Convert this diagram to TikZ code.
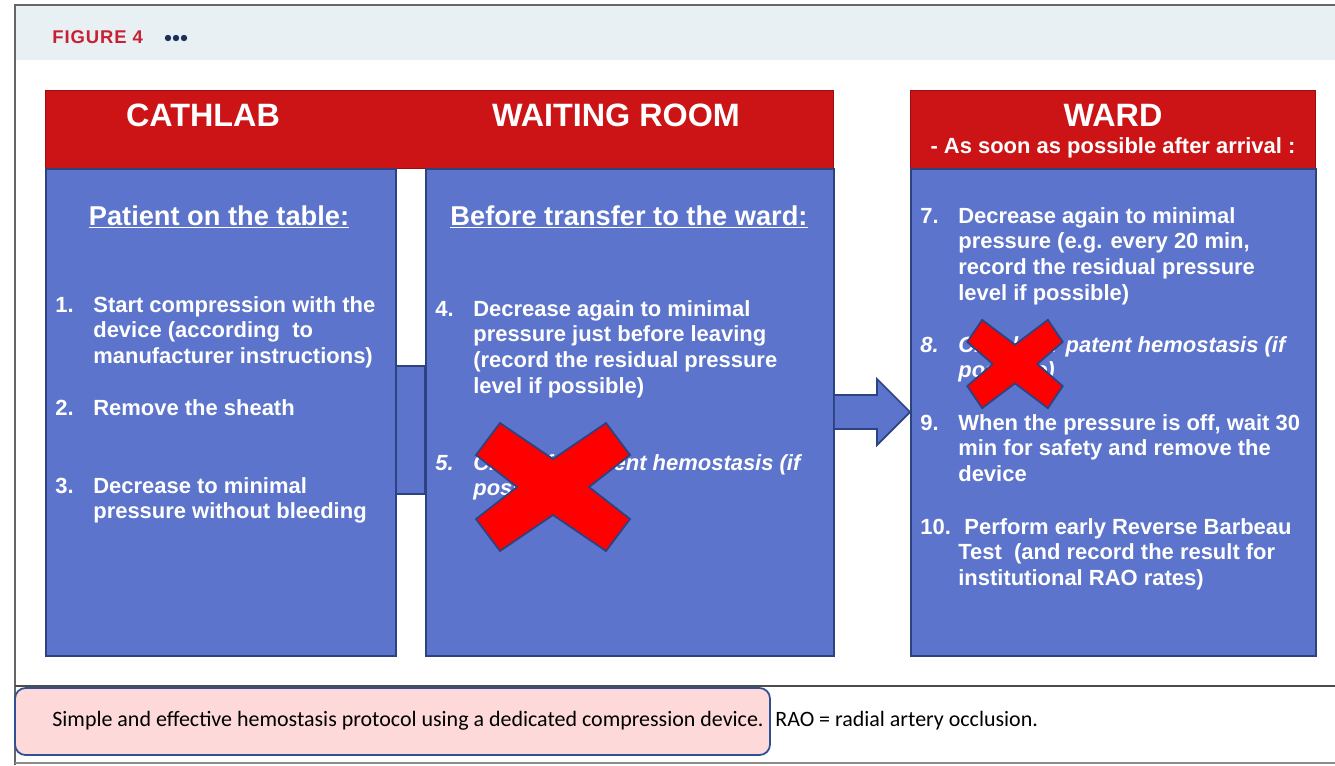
\documentclass[tikz,border=0pt]{standalone}
\usepackage{fontspec}
\setmainfont{Liberation Sans}
\newfontfamily\capfont{Carlito}
\usetikzlibrary{calc}
\definecolor{hdrred}{RGB}{204,20,22}
\definecolor{boxblue}{RGB}{92,116,203}
\definecolor{boxline}{RGB}{45,66,128}
\definecolor{crossred}{RGB}{255,0,0}
\definecolor{bandgray}{RGB}{232,240,243}
\definecolor{figred}{RGB}{200,32,50}
\definecolor{dotblue}{RGB}{28,46,90}
\definecolor{notepink}{RGB}{253,217,217}
\definecolor{noteline}{RGB}{47,80,145}
\newcommand\pxl{0.02cm}
\tikzset{hdr/.style={fill=hdrred,draw=hdrred!75!black,inner sep=0pt,anchor=north west},
 bluebox/.style={draw=boxline,fill=boxblue,line width=1pt,inner sep=0pt,anchor=north west},
 title/.style={text=white,font=\fontsize{18.4}{20}\selectfont\bfseries},
 subtitle/.style={text=white,font=\fontsize{12.5}{14}\selectfont\bfseries},
 heading/.style={text=white,font=\fontsize{15.5}{18}\selectfont\bfseries,anchor=base},
 num/.style={text=white,font=\fontsize{12.5}{14.6}\selectfont\bfseries,anchor=north west,inner sep=0pt,execute at begin node=\vphantom{h}},
 itemtext/.style={num,align=left},
 captext/.style={font=\capfont\fontsize{12.5}{14}\selectfont,text=black,anchor=west,inner sep=0pt},
 cross/.pic={\draw[fill=crossred,draw=boxline,line width=1pt] (-53,-64) -- (0,-28) -- (53,-64) -- (77,-32) -- (36,0) -- (77,32) -- (53,64) -- (0,28) -- (-53,64) -- (-77,32) -- (-36,0) -- (-77,-32) -- cycle;}}

\begin{document}
\begin{tikzpicture}[x=0.02cm,y=-0.02cm]
\useasboundingbox (0,0) rectangle (1335,765);
% page frame and figure band
\fill[white] (0,0) rectangle (1335,765);
\fill[bandgray] (15,5) rectangle (1335,60);
\draw[black!60,line width=1pt] (15,765) -- (15,5) -- (1335,5);
\draw[black!70,line width=1pt] (15,686) -- (1335,686);
\draw[black!45,line width=1pt] (15,763) -- (1335,763);
\node[text=figred,font=\fontsize{10.5}{12}\selectfont\bfseries\addfontfeature{LetterSpace=5},anchor=west,inner sep=0pt] (figlabel) at (52,37) {FIGURE 4};
\foreach \dx in {168,176,184} \fill[dotblue] (\dx,38) circle (3.2);

% red headers
\node[hdr,minimum width=788*\pxl,minimum height=78*\pxl] (lefthdr) at (45,90) {};
\node[hdr,minimum width=405*\pxl,minimum height=78*\pxl] (righthdr) at (910,90) {};
\node[title] (cathtitle) at (203,115) {CATHLAB};
\node[title] (waittitle) at (616,115) {WAITING ROOM};
\node[title] (wardtitle) at (1113,115) {WARD};
\node[subtitle] (wardsub) at (1113,148) {- As soon as possible after arrival :};

% the three stages
\draw[draw=boxline,fill=boxblue,line width=1pt] (395,366) rectangle (425,494);
\node[bluebox,minimum width=350*\pxl,minimum height=487*\pxl] (cathbox) at (45,168) {};
\node[bluebox,minimum width=408*\pxl,minimum height=487*\pxl] (waitbox) at (425,168) {};
\node[bluebox,minimum width=405*\pxl,minimum height=487*\pxl] (wardbox) at (910,168) {};
\draw[draw=boxline,fill=boxblue,line width=1pt] (waitbox.east |- 0,395) -- (877,395) -- (877,379) -- (wardbox.west |- 0,412) -- (877,445) -- (877,429) -- (waitbox.east |- 0,429);

% cathlab
\node[heading] (cathhead) at (219,225) {\underline{Patient on the table:}};
\node[num] (n1) at (55,296) {1.};
\node[itemtext] (t1) at (93,296) {Start compression with the\\device (according~ to\\manufacturer instructions)};
\node[num] (n2) at (55,399) {2.};
\node[itemtext] (t2) at (93,399) {Remove the sheath};
\node[num] (n3) at (55,477) {3.};
\node[itemtext] (t3) at (93,477) {Decrease to minimal\\pressure without bleeding};

% waiting room
\node[heading] (waithead) at (629,225) {\underline{Before transfer to the ward:}};
\node[num] (n4) at (435,300) {4.};
\node[itemtext] (t4) at (473,300) {Decrease again to minimal\\pressure just before leaving\\(record the residual pressure\\level if possible)};
\node[num] (n5) at (435,454) {\itshape 5.};
\node[itemtext] (t5) at (473,454) {\itshape Check for patent hemostasis (if\\\itshape possible)};

% ward
\node[num] (n7) at (920,207) {7.};
\node[itemtext] (t7) at (958,207) {Decrease again to minimal\\pressure (e.g. every 20 min,\\record the residual pressure\\level if possible)};
\node[num] (n8) at (920,336) {\itshape 8.};
\node[itemtext] (t8) at (958,336) {\itshape Check for patent hemostasis (if\\\itshape possible)};
\node[num] (n9) at (920,414) {9.};
\node[itemtext] (t9) at (958,414) {When the pressure is off, wait 30\\min for safety and remove the\\device};
\node[num] (n10) at (920,518) {10.};
\node[itemtext] (t10) at (958,518) {~Perform early Reverse Barbeau\\Test~ (and record the result for\\institutional RAO rates)};

% crossed-out steps
\pic at (553,487) {cross};
\pic[xscale=.62,yscale=.69] at (1015,364) {cross};

% caption
\draw[fill=notepink,draw=noteline,line width=1pt,rounded corners=6pt] (15,688) rectangle (770,755);
\node[captext] (capmain) at (52,721) {Simple and effective hemostasis protocol using a dedicated compression device.};
\node[captext] (capabbr) at (775,721) {RAO = radial artery occlusion.};
\end{tikzpicture}
\end{document}
